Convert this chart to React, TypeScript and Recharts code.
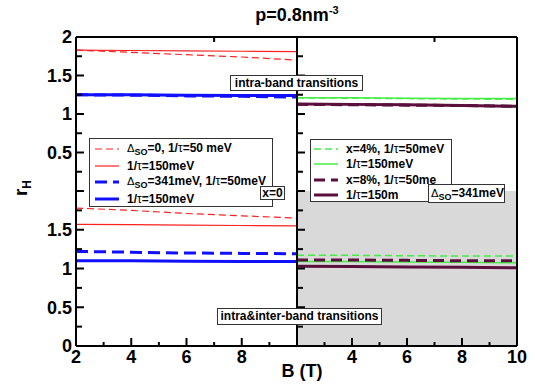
import React from "react"
import { LineChart, Line, XAxis, YAxis, CartesianGrid } from "recharts"

const bField = [2, 4, 6, 8, 10]

// upper left: x=0, intra-band only
const ulRed50 = [1.83, 1.8, 1.77, 1.74, 1.7]
const ulRed150 = [1.83, 1.825, 1.82, 1.815, 1.81]
const ulBlue50 = [1.25, 1.245, 1.235, 1.23, 1.22]
const ulBlue150 = [1.25, 1.25, 1.245, 1.24, 1.24]

// upper right: Dso=341meV, intra-band only
const urGreen50 = [1.21, 1.205, 1.2, 1.195, 1.19]
const urGreen150 = [1.21, 1.21, 1.205, 1.2, 1.2]
const urPurple50 = [1.125, 1.12, 1.115, 1.11, 1.1]
const urPurple150 = [1.13, 1.125, 1.12, 1.11, 1.1]

// lower left: x=0, intra & inter-band
const llRed50 = [1.78, 1.75, 1.71, 1.68, 1.65]
const llRed150 = [1.57, 1.565, 1.56, 1.555, 1.55]
const llBlue50 = [1.22, 1.21, 1.2, 1.195, 1.19]
const llBlue150 = [1.1, 1.1, 1.095, 1.09, 1.09]

// lower right: Dso=341meV, intra & inter-band
const lrGreen50 = [1.17, 1.17, 1.165, 1.16, 1.16]
const lrGreen150 = [1.09, 1.09, 1.085, 1.08, 1.075]
const lrPurple50 = [1.11, 1.11, 1.105, 1.1, 1.1]
const lrPurple150 = [1.03, 1.025, 1.02, 1.015, 1.01]

const yTicks = [0, 0.25, 0.5, 0.75, 1, 1.25, 1.5, 1.75, 2]
const bTicks = [2, 3, 4, 5, 6, 7, 8, 9, 10]
const topTicks = [2.5, 5, 7.5]
const upperYLabels = [0.5, 1, 1.5, 2]
const lowerYLabels = [0, 0.5, 1, 1.5]
const leftBLabels = [2, 4, 6, 8]
const rightBLabels = [4, 6, 8, 10]

const FONT = "'Liberation Sans', Arial, Helvetica, sans-serif"
const RED = "#ff2020"
const BLUE = "#1010ff"
const GREEN = "#44ee44"
const PURPLE = "#5a0f3c"

const red50 = { color: RED, width: 1.2, dash: "7 4" }
const red150 = { color: RED, width: 1.2 }
const blue50 = { color: BLUE, width: 3, dash: "12 6" }
const blue150 = { color: BLUE, width: 3 }
const green50 = { color: GREEN, width: 1.5, dash: "7 4" }
const green150 = { color: GREEN, width: 1.5 }
const purple50 = { color: PURPLE, width: 3, dash: "11 6" }
const purple150 = { color: PURPLE, width: 3 }

const PAD = 30
const frame = { stroke: "#000", strokeWidth: 2 }
const tickText = { fontFamily: FONT, fontWeight: 700, fontSize: 18, fill: "#000" }

const isHalf = (v: number) => Math.abs(v * 2 - Math.round(v * 2)) < 1e-6
const isEven = (v: number) => Math.abs(v / 2 - Math.round(v / 2)) < 1e-6

const leftTick = (labels: number[]) => (p: any) => {
  const v = p.payload.value
  return (
    <g>
      <line x1={p.x} y1={p.y} x2={p.x + (isHalf(v) ? 8 : 6)} y2={p.y} stroke="#000" strokeWidth={2} />
      {labels.includes(v) && (
        <text x={p.x - 4} y={p.y} dy="0.36em" textAnchor="end" style={tickText}>{v}</text>
      )}
    </g>
  )
}

const rightTick = (p: any) => {
  const v = p.payload.value
  return <line x1={p.x} y1={p.y} x2={p.x - (isHalf(v) ? 8 : 6)} y2={p.y} stroke="#000" strokeWidth={2} />
}

const bottomTick = (labels: number[]) => (p: any) => {
  const v = p.payload.value
  return (
    <g>
      <line x1={p.x} y1={p.y} x2={p.x} y2={p.y - (isEven(v) ? 8 : 4)} stroke="#000" strokeWidth={2} />
      {labels.includes(v) && (
        <text x={p.x} y={p.y + 4} dy="0.72em" textAnchor="middle" style={tickText}>{v}</text>
      )}
    </g>
  )
}

const topTick = (p: any) => <line x1={p.x} y1={p.y} x2={p.x} y2={p.y + 5} stroke="#000" strokeWidth={2} />

type Series = { values: number[]; style: { color: string; width: number; dash?: string } }

function Panel({ x0, x1, y0, y1, series, yLabels, bLabels, lower, gray }: {
  x0: number; x1: number; y0: number; y1: number; series: Series[]
  yLabels: number[]; bLabels: number[]; lower: boolean; gray?: boolean
}) {
  const data = bField.map((b, i) => {
    const row: Record<string, number> = { B: b }
    series.forEach((s, j) => (row["s" + j] = s.values[i]))
    return row
  })
  return (
    <div style={{ position: "absolute", left: x0 - PAD, top: y0 - PAD }}>
      <LineChart width={x1 - x0 + 2 * PAD} height={y1 - y0 + 2 * PAD} data={data} margin={{ top: 0, right: 0, bottom: 0, left: 0 }}>
        {gray && <CartesianGrid xAxisId="b" yAxisId="l" horizontal={false} vertical={false} fill="#d9d9d9" />}
        <XAxis xAxisId="b" dataKey="B" type="number" domain={[2, 10]} ticks={bTicks} interval={0} height={PAD}
          axisLine={lower ? frame : false} tickLine={false} tickSize={0} tickMargin={0}
          tick={lower ? bottomTick(bLabels) : false} />
        <XAxis xAxisId="t" orientation="top" type="number" domain={[2, 10]} ticks={topTicks} interval={0} height={PAD}
          axisLine={lower ? false : frame} tickLine={false} tickSize={0} tickMargin={0}
          tick={lower ? false : topTick} />
        <YAxis yAxisId="l" type="number" domain={[0, 2]} ticks={yTicks} interval={0} width={PAD}
          axisLine={frame} tickLine={false} tickSize={0} tickMargin={0} tick={leftTick(yLabels)} />
        <YAxis yAxisId="r" orientation="right" type="number" domain={[0, 2]} ticks={yTicks} interval={0} width={PAD}
          axisLine={frame} tickLine={false} tickSize={0} tickMargin={0} tick={rightTick} />
        {series.map((s, j) => (
          <Line key={j} xAxisId="b" yAxisId="l" type="linear" dataKey={"s" + j} stroke={s.style.color}
            strokeWidth={s.style.width} strokeDasharray={s.style.dash} dot={false} isAnimationActive={false} />
        ))}
      </LineChart>
    </div>
  )
}

const Delta = () => (
  <span>
    <span style={{ fontWeight: 400, fontFamily: "'DejaVu Sans', sans-serif", fontSize: 11 }}>Δ</span>
    <sub style={{ fontSize: 9, verticalAlign: "-3px" }}>SO</sub>
  </span>
)
const tau = <span style={{ fontWeight: 400 }}>τ</span>

const boxStyle: React.CSSProperties = {
  position: "absolute",
  background: "#fff",
  border: "1px solid #333",
  fontFamily: FONT,
  fontWeight: 700,
  fontSize: 12,
  color: "#000",
  boxSizing: "border-box",
  whiteSpace: "nowrap",
  overflow: "hidden",
}

function LegendBox({ left, top, width, height, rowH, padTop, sampleLeft, textGap, items }: {
  left: number; top: number; width: number; height: number; rowH: number; padTop: number
  sampleLeft: number; textGap: number
  items: { style: { color: string; width: number; dash?: string }; label: React.ReactNode }[]
}) {
  return (
    <div style={{ ...boxStyle, left, top, width, height, paddingTop: padTop }}>
      {items.map((it, i) => (
        <div key={i} style={{ display: "flex", alignItems: "center", height: rowH }}>
          <svg width={24} height={6} style={{ marginLeft: sampleLeft, marginRight: textGap }}>
            <line x1={0} y1={3} x2={24} y2={3} stroke={it.style.color} strokeWidth={it.style.width}
              strokeDasharray={it.style.dash} />
          </svg>
          <span>{it.label}</span>
        </div>
      ))}
    </div>
  )
}

export default function App() {
  const X0 = 76, XM = 297, X1 = 517, Y0 = 37, YM = 191, Y1 = 346
  return (
    <div style={{ position: "fixed", left: 0, top: 0, width: 535, height: 388, background: "#fff", overflow: "hidden" }}>
      <Panel x0={X0} x1={XM} y0={YM} y1={Y1} lower yLabels={lowerYLabels} bLabels={leftBLabels}
        series={[
          { values: llRed50, style: red50 },
          { values: llRed150, style: red150 },
          { values: llBlue50, style: blue50 },
          { values: llBlue150, style: blue150 },
        ]} />
      <Panel x0={XM} x1={X1} y0={YM} y1={Y1} lower gray yLabels={[]} bLabels={rightBLabels}
        series={[
          { values: lrGreen50, style: green50 },
          { values: lrGreen150, style: green150 },
          { values: lrPurple50, style: purple50 },
          { values: lrPurple150, style: purple150 },
        ]} />
      <Panel x0={X0} x1={XM} y0={Y0} y1={YM} lower={false} yLabels={upperYLabels} bLabels={[]}
        series={[
          { values: ulRed50, style: red50 },
          { values: ulRed150, style: red150 },
          { values: ulBlue50, style: blue50 },
          { values: ulBlue150, style: blue150 },
        ]} />
      <Panel x0={XM} x1={X1} y0={Y0} y1={YM} lower={false} yLabels={[]} bLabels={[]}
        series={[
          { values: urGreen50, style: green50 },
          { values: urGreen150, style: green150 },
          { values: urPurple50, style: purple50 },
          { values: urPurple150, style: purple150 },
        ]} />

      <div style={{ position: "absolute", left: 197, top: 4, width: 200, textAlign: "center", fontFamily: FONT, fontWeight: 700, fontSize: 18 }}>
        p=0.8nm<sup style={{ fontSize: 11, verticalAlign: "7px" }}>-3</sup>
      </div>
      <div style={{ position: "absolute", left: 252, top: 361, width: 100, textAlign: "center", fontFamily: FONT, fontWeight: 700, fontSize: 18 }}>
        B (T)
      </div>
      <div style={{ position: "absolute", left: -8, top: 176, width: 60, textAlign: "center", transform: "rotate(-90deg)", fontFamily: FONT, fontWeight: 700, fontSize: 19 }}>
        r<sub style={{ fontSize: 12, verticalAlign: "-4px" }}>H</sub>
      </div>

      <div style={{ ...boxStyle, left: 230, top: 75, width: 133, height: 16, textAlign: "center", lineHeight: "14px" }}>
        intra-band transitions
      </div>
      <div style={{ ...boxStyle, left: 217, top: 308, width: 165, height: 17, textAlign: "center", lineHeight: "15px" }}>
        intra&amp;inter-band transitions
      </div>

      <LegendBox left={89} top={138} width={184} height={69} rowH={16.5} padTop={2} sampleLeft={5} textGap={8}
        items={[
          { style: red50, label: <><Delta />=0, 1/{tau}=50 meV</> },
          { style: red150, label: <>1/{tau}=150meV</> },
          { style: blue50, label: <><Delta />=341meV, 1/{tau}=50meV</> },
          { style: blue150, label: <>1/{tau}=150meV</> },
        ]} />
      <div style={{ ...boxStyle, left: 260, top: 186, width: 25, height: 14, textAlign: "center", lineHeight: "12px" }}>x=0</div>

      <LegendBox left={310} top={139} width={142} height={63} rowH={15.3} padTop={1.5} sampleLeft={3} textGap={8}
        items={[
          { style: green50, label: <>x=4%, 1/{tau}=50meV</> },
          { style: green150, label: <>1/{tau}=150meV</> },
          { style: purple50, label: <>x=8%, 1/{tau}=50me</> },
          { style: purple150, label: <>1/{tau}=150m</> },
        ]} />
      <div style={{ ...boxStyle, left: 428, top: 184, width: 77, height: 19, lineHeight: "16px", paddingLeft: 2 }}>
        <Delta />=341meV
      </div>
    </div>
  )
}
